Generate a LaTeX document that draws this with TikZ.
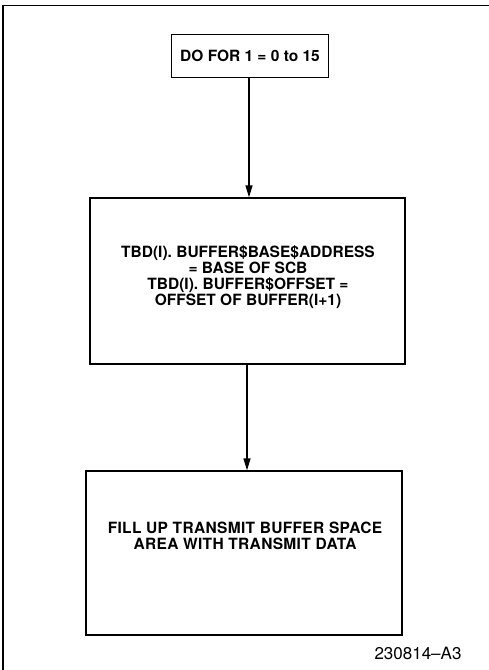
\documentclass[tikz,border=0pt]{standalone}
\usepackage{fontspec}
\setmainfont{TeX Gyre Heros}
\usetikzlibrary{arrows.meta}

\tikzset{
  stepbox/.style={draw, line width=1.3pt, inner sep=0pt},
  steptext/.style={font=\bfseries\fontsize{15.5}{16}\selectfont, align=center, inner sep=0pt},
}

\begin{document}
\begin{tikzpicture}[x=1pt, y=-1pt, >={Triangle[length=12pt, width=7pt]}]
\useasboundingbox (0,0) rectangle (489,670);
% open frame (left and top edges only)
\draw[line width=1.2pt] (3,670) -- (3,5.5) -- (489,5.5);

% Loop header
\node[stepbox, steptext, minimum width=157pt, minimum height=43pt] (loop) at (250,56) {DO FOR 1 = 0 to 15};
% Buffer descriptor box
\node[stepbox, minimum width=315pt, minimum height=166pt] (tbd) at (247.5,281) {};
\node[steptext] (tbdtext) at (248,277) {TBD(I). BUFFER\$BASE\$ADDRESS\\= BASE OF SCB\\TBD(I). BUFFER\$OFFSET =\\OFFSET OF BUFFER(I+1)};
% Fill box
\node[stepbox, minimum width=316pt, minimum height=164pt] (fill) at (244,553) {};
\node[steptext, font=\bfseries\fontsize{15.5}{16}\selectfont\addfontfeatures{LetterSpace=2.2}] (filltext) at (245,536) {FILL UP TRANSMIT BUFFER SPACE\\AREA WITH TRANSMIT DATA};

% Figure number
\node[font=\fontsize{17}{19}\selectfont, inner sep=0pt] (fignum) at (418,653) {230814--A3};

% Connectors
\draw[->, line width=1.3pt] (249,0 |- loop.south) -- (249,0 |- tbd.north);
\draw[->, line width=1.3pt] (247,0 |- tbd.south) -- (247,0 |- fill.north);
\end{tikzpicture}
\end{document}
